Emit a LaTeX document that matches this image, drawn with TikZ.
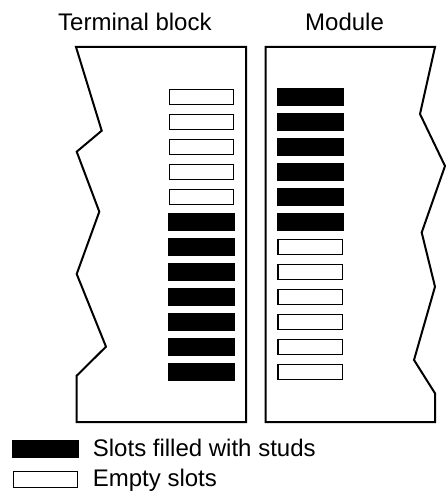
\documentclass[tikz,border=0pt]{standalone}
\usepackage{fontspec}
\setmainfont{Liberation Sans}
\begin{document}
\begin{tikzpicture}[x=1pt,y=-1pt,
  blockline/.style={draw=black,line width=2pt,line join=miter},
  fullslot/.style={fill=black},
  emptyslot/.style={draw=black,fill=white,line width=1.4pt},
  lbl/.style={inner sep=0pt,anchor=base west,font=\fontsize{24}{28}\selectfont}]
\useasboundingbox (0,0) rectangle (446,495);
% titles
\node[lbl] (t1) at (58,30.7) {Terminal block};
\node[lbl] (t2) at (305,30.7) {Module};
% terminal block outline
\draw[blockline] (76,47) -- (246,47) -- (246,422) -- (76.7,422) -- (76.7,375.7)
  -- (106,346.7) -- (76.7,274) -- (99.3,211.7) -- (76.7,151.7) -- (101.7,130.7) -- cycle;
% module outline
\draw[blockline] (265.7,47) -- (435,47) -- (420,114) -- (445,166) -- (421.7,232.5)
  -- (435,286.7) -- (414,360) -- (435,393.3) -- (435,422) -- (265.7,422) -- cycle;
% slots
\foreach \k in {0,...,11}{
  \pgfmathsetmacro{\T}{88.7+25*\k}
  \ifnum\k<5
    \draw[emptyslot] (169.4,\T+0.7) rectangle (233.6,\T+15.6);
  \else
    \fill[fullslot] (168.3,\T-0.5) rectangle (235,\T+17.6);
  \fi
  \ifnum\k<6
    \fill[fullslot] (276.5,\T-0.8) rectangle (343.5,\T+17.4);
  \else
    \draw[emptyslot] (278,\T+0.7) rectangle (342.2,\T+15.6);
  \fi
}
% legend
\fill[fullslot] (11.7,440) rectangle (79,458);
\draw[emptyslot] (13.7,471.4) rectangle (77.3,487.3);
\node[lbl] (l1) at (92.7,456.7) {Slots filled with studs};
\node[lbl] (l2) at (92.7,486) {Empty slots};
\end{tikzpicture}
\end{document}
